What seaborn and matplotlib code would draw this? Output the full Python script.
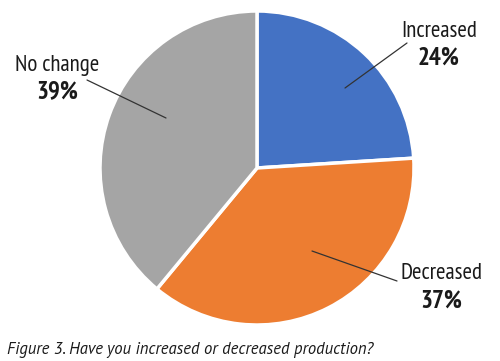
import matplotlib
matplotlib.use("Agg")
import matplotlib.pyplot as plt
import seaborn as sns

# data
categories = ["Increased", "Decreased", "No change"]
shares = [24, 37, 39]
colors = ["#4472C4", "#ED7D31", "#A5A5A5"]
caption = "Figure 3. Have you increased or decreased production?"

sns.set_theme(style="white")
plt.rcParams['font.family'] = ['PT Sans Narrow', 'DejaVu Sans']

W, H = 500, 361
cx, cy, R = 257, 168, 157   # pie centre / radius in pixels

fig = plt.figure(figsize=(W / 100, H / 100), dpi=100)
ax = fig.add_axes([(cx - R) / W, (H - cy - R) / H, 2 * R / W, 2 * R / H])

ax.pie(shares, colors=colors, startangle=90, counterclock=False,
       wedgeprops={'edgecolor': 'white', 'linewidth': 2.5})
ax.set_xlim(-1, 1)
ax.set_ylim(-1, 1)
ax.set_aspect('equal')
ax.axis('off')


def to_data(px, py):
    return ((px - cx) / R, (cy - py) / R)


# label layout in pixels: (label x, name baseline, pct baseline, line start, line end)
layout = {
    "Increased": (439, 37, 65, (407, 43), (345, 88)),
    "Decreased": (441, 279, 308, (397, 281), (312, 251)),
    "No change": (57, 71, 98, (87, 80), (166, 118)),
}

for cat, val in zip(categories, shares):
    lx, yb1, yb2, p0, p1 = layout[cat]
    ax.plot(*zip(to_data(*p0), to_data(*p1)), color='#333333', lw=0.9,
            clip_on=False)
    ax.text(*to_data(lx, yb1), cat, ha='center', va='baseline', fontsize=16.5,
            color='#1a1a1a')
    ax.text(*to_data(lx, yb2), f"{val}%", ha='center', va='baseline',
            fontsize=18, fontweight='bold', color='#1a1a1a')

fig.text(7 / W, 1 - 354 / H, caption,
         ha='left', va='baseline', fontsize=12, style='italic',
         fontweight='normal', color='#1a1a1a',
         family=['PT Sans', 'DejaVu Sans'])

fig.savefig("out.png", dpi=100)
